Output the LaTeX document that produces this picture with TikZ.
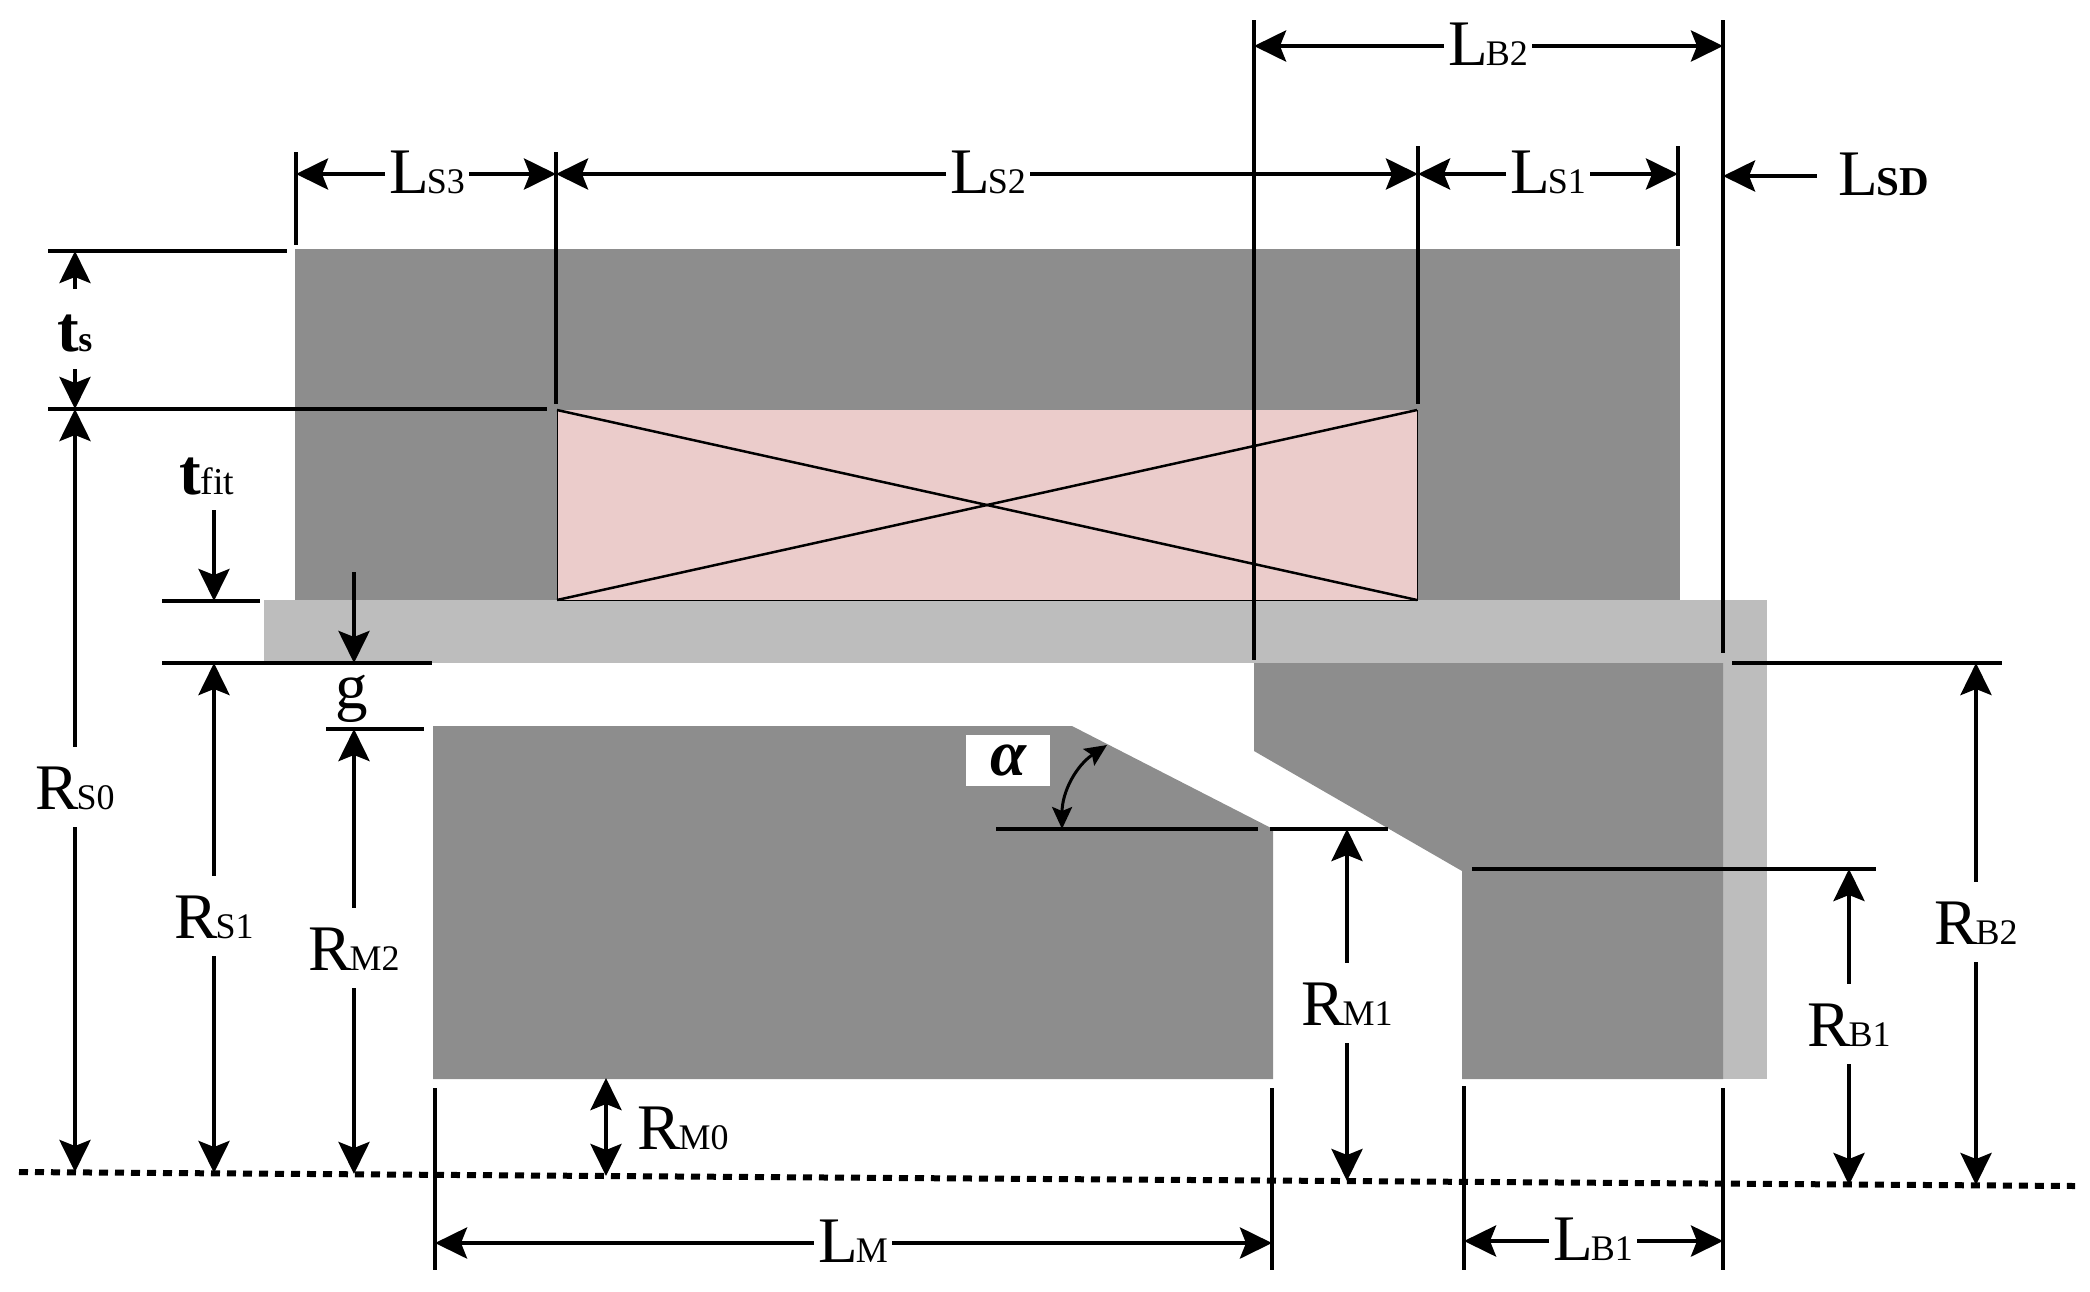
\documentclass[tikz,border=0pt]{standalone}
\usepackage{fontspec}
\setmainfont{Liberation Serif}
\usetikzlibrary{arrows.meta, positioning}
\definecolor{iron}{RGB}{141,141,141}
\definecolor{sleeve}{RGB}{189,189,189}
\definecolor{winding}{RGB}{235,204,203}
\newcommand{\dimlab}[2]{#1\kern-2pt{\fontsize{36}{36}\selectfont #2}}
\tikzstyle{extline}=[line width=4.5pt]
\tikzstyle{dimline}=[line width=4.5pt, >={Stealth[length=32pt, width=31pt, inset=6pt]}]
\tikzstyle{vlabel}=[font=\fontsize{65}{70}\selectfont, inner xsep=4pt, inner ysep=18pt, text height=44pt, text depth=0pt]
\tikzstyle{hlabel}=[font=\fontsize{65}{70}\selectfont, inner xsep=4pt, inner ysep=0pt, text height=39pt, text depth=0pt]

\begin{document}
\begin{tikzpicture}[x=1pt,y=-1pt]
    \useasboundingbox (0,0) rectangle (2090,1291);

    % Iron and sleeve.
    \fill[sleeve] (264,600) rectangle (1767,663);
    \fill[sleeve] (1723,663) rectangle (1767,1079);
    \fill[iron] (295,249) rectangle (1680,600);
    \fill[iron] (433,726) -- (1072,726) -- (1273,829) -- (1273,1079) -- (433,1079) -- cycle;
    \fill[iron] (1254,663) -- (1723,663) -- (1723,1079) -- (1462,1079) -- (1462,871) -- (1254,751) -- cycle;

    % Winding.
    \coordinate (wnw) at (557,410);
    \coordinate (wne) at (1417,410);
    \coordinate (wse) at (1417,600);
    \coordinate (wsw) at (557,600);
    \fill[winding] (wnw) rectangle (wse);
    \draw[line width=1pt] (wnw) -- (wsw) -- (wse) -- (wne);
    \draw[line width=2.5pt] (wnw) -- (wse);
    \draw[line width=2.5pt] (wsw) -- (wne);

    % Axis.
    \coordinate (axl) at (19,1172);
    \coordinate (axr) at (2075,1186);
    \draw[line width=6pt, dash pattern=on 9pt off 7pt] (axl) -- (axr);

    % Extension lines.
    \foreach \name/\xa/\ya/\xb/\yb in {
        a/296/152/296/245, b/556/152/556/404, c/1418/146/1418/404, d/1678/146/1678/246,
        e/1254/20/1254/660, f/1723/20/1723/653,
        g/48/251/287/251, h/48/409/547/409, i/162/601/260/601, j/162/663/432/663,
        k/326/729/424/729, l/996/829/1258/829, m/1270/829/1388/829,
        n/1472/869/1876/869, o/1732/663/2002/663,
        p/435/1088/435/1270, q/1272/1088/1272/1270, r/1464/1086/1464/1270, s/1723/1088/1723/1270} {
      \coordinate (ext\name a) at (\xa,\ya);
      \coordinate (ext\name b) at (\xb,\yb);
      \draw[extline] (ext\name a) -- (ext\name b);
    }

    % Stator lengths.
    \node[hlabel] (ls3) at (427,174) {\dimlab{L}{S3}};
    \node[hlabel] (ls2) at (988,174) {\dimlab{L}{S2}};
    \node[hlabel] (ls1) at (1548,174) {\dimlab{L}{S1}};
    \node[hlabel] (lsd) at (1884,176) {L\kern-2pt{\fontsize{41}{41}\selectfont\bfseries SD}};
    \node[hlabel] (lb2) at (1488,46) {\dimlab{L}{B2}};
    \foreach \from/\to/\tx/\ty in {
        ls3/ls3l/296/174, ls3/ls3r/556/174, ls2/ls2l/556/174, ls2/ls2r/1418/174,
        ls1/ls1l/1418/174, ls1/ls1r/1678/174, lb2/lb2l/1254/46, lb2/lb2r/1723/46} {
      \coordinate (\to) at (\tx,\ty);
      \draw[dimline,->] (\from) -- (\to);
    }
    \coordinate (lsdtip) at (1723,176);
    \draw[dimline,->,shorten <=18pt] (lsd) -- (lsdtip);

    % Radii on the left.
    \node[vlabel] (ts) at (75,329) {\textbf{t}\kern-1pt{\fontsize{36}{36}\selectfont\bfseries s}};
    \node[vlabel] (rs0) at (75,787) {\dimlab{R}{S0}};
    \node[vlabel] (rs1) at (214,916) {\dimlab{R}{S1}};
    \node[vlabel] (rm2) at (354,948) {\dimlab{R}{M2}};
    \node[vlabel] (tfit) at (207,472) {\textbf{t}\kern-1pt{\fontsize{38}{38}\selectfont fit}};
    \node[font=\fontsize{65}{70}\selectfont, inner sep=0pt] (g) at (352,699) {g};
    \foreach \from/\to/\tx/\ty in {
        ts/tsu/75/251, ts/tsd/75/409, rs0/rs0u/75/409, rs0/rs0d/75/1172,
        rs1/rs1u/214/663, rs1/rs1d/214/1173, rm2/rm2u/354/729, rm2/rm2d/354/1174} {
      \coordinate (\to) at (\tx,\ty);
      \draw[dimline,->] (\from) -- (\to);
    }
    \coordinate (tfita) at (214,510);
    \coordinate (tfitb) at (214,601);
    \draw[dimline,->] (tfita) -- (tfitb);
    \coordinate (ga) at (354,572);
    \coordinate (gb) at (354,663);
    \draw[dimline,->] (ga) -- (gb);

    % Rotor.
    \node[vlabel] (rm0) at (683,1127) {\dimlab{R}{M0}};
    \coordinate (rm0u) at (606,1078);
    \coordinate (rm0d) at (606,1176);
    \draw[dimline,<->] (rm0u) -- (rm0d);

    % Radii on the right.
    \node[vlabel] (rm1) at (1347,1003) {\dimlab{R}{M1}};
    \node[vlabel] (rb1) at (1849,1024) {\dimlab{R}{B1}};
    \node[vlabel] (rb2) at (1976,922) {\dimlab{R}{B2}};
    \foreach \from/\to/\tx/\ty in {
        rm1/rm1u/1347/829, rm1/rm1d/1347/1181, rb1/rb1u/1849/869, rb1/rb1d/1849/1185,
        rb2/rb2u/1976/663, rb2/rb2d/1976/1185} {
      \coordinate (\to) at (\tx,\ty);
      \draw[dimline,->] (\from) -- (\to);
    }

    % Angle.
    \node[fill=white, inner sep=0pt, minimum width=84pt, minimum height=51pt, font=\fontsize{65}{70}\selectfont\bfseries\itshape] (alpha) at (1008,760) {\raisebox{-3pt}{α}};
    \coordinate (anga) at (1062,829);
    \coordinate (angb) at (1107,745);
    \draw[line width=3pt, <->, >={Stealth[length=22pt, width=20pt, inset=4pt]}] (anga) to[bend left=28] (angb);

    % Lengths at the bottom.
    \node[hlabel] (lm) at (853,1243) {\dimlab{L}{M}};
    \node[hlabel] (lb1) at (1593,1241) {\dimlab{L}{B1}};
    \foreach \from/\to/\tx/\ty in {
        lm/lml/435/1243, lm/lmr/1272/1243, lb1/lb1l/1464/1241, lb1/lb1r/1723/1241} {
      \coordinate (\to) at (\tx,\ty);
      \draw[dimline,->] (\from) -- (\to);
    }
\end{tikzpicture}
\end{document}
